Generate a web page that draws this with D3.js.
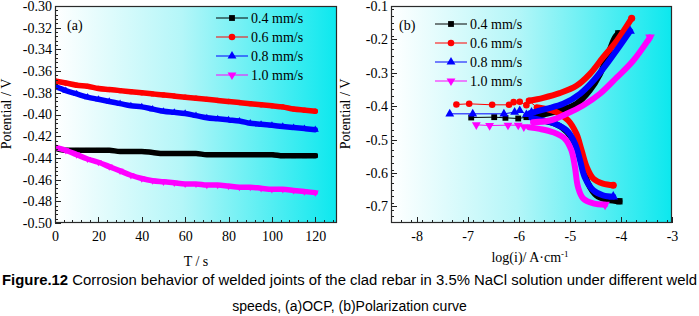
<!DOCTYPE html>
<html><head><meta charset="utf-8">
<script src="https://cdn.jsdelivr.net/npm/d3@7"></script>
<style>
html,body{margin:0;padding:0;background:#fff;}
svg{display:block;}
.serif{font-family:"Liberation Serif","Times New Roman","DejaVu Serif",serif;}
.sans{font-family:"Liberation Sans",Arial,"DejaVu Sans",sans-serif;}
</style></head>
<body>
<svg id="chart" width="699" height="316"></svg>
<script>
// ---------------- DATA ----------------
const seriesNames = ["0.4 mm/s", "0.6 mm/s", "0.8 mm/s", "1.0 mm/s"];
const seriesColors = ["#000000", "#ff0000", "#0000ff", "#ff00ff"];
const seriesSymbols = ["square", "circle", "triangleUp", "triangleDown"];

// (a) OCP
const ocpTime = [0,5,10,15,20,25,30,35,40,45,50,55,60,65,70,75,80,85,90,95,100,105,110,115,120];
const ocp04 = [-0.431,-0.433,-0.433,-0.433,-0.433,-0.433,-0.434,-0.434,-0.434,-0.435,-0.436,-0.436,-0.436,-0.436,-0.437,-0.437,-0.437,-0.437,-0.437,-0.437,-0.437,-0.438,-0.438,-0.438,-0.438];
const ocp06 = [-0.369,-0.371,-0.373,-0.374,-0.376,-0.377,-0.378,-0.379,-0.380,-0.381,-0.382,-0.383,-0.384,-0.385,-0.386,-0.387,-0.388,-0.389,-0.390,-0.391,-0.392,-0.393,-0.395,-0.396,-0.397];
const ocp08 = [-0.374,-0.378,-0.381,-0.384,-0.386,-0.388,-0.390,-0.392,-0.393,-0.395,-0.397,-0.398,-0.399,-0.401,-0.403,-0.404,-0.405,-0.406,-0.408,-0.409,-0.410,-0.411,-0.412,-0.413,-0.414];
const ocp10 = [-0.430,-0.433,-0.437,-0.441,-0.444,-0.448,-0.452,-0.456,-0.459,-0.461,-0.462,-0.463,-0.464,-0.464,-0.465,-0.465,-0.466,-0.467,-0.467,-0.468,-0.469,-0.469,-0.470,-0.471,-0.472];
const ocpTicksX = [0,20,40,60,80,100,120];
const ocpTicksY = [-0.50,-0.48,-0.46,-0.44,-0.42,-0.40,-0.38,-0.36,-0.34,-0.32,-0.30];

// (b) Polarization: [log(i), E]
const cath04 = [[-4.03,-0.685],[-4.25,-0.681],[-4.48,-0.667],[-4.64,-0.632],[-4.74,-0.582],[-4.84,-0.532],[-4.97,-0.493],[-5.16,-0.463],[-5.39,-0.448],[-5.65,-0.441]];
const corr04 = [[-6.93,-0.434],[-6.48,-0.433],[-6.26,-0.435],[-6.01,-0.437],[-5.85,-0.433]];
const anod04 = [[-5.78,-0.431],[-5.52,-0.425],[-5.2,-0.413],[-4.87,-0.393],[-4.61,-0.353],[-4.41,-0.304],[-4.25,-0.244],[-4.12,-0.195],[-4.05,-0.182]];

const cath06 = [[-4.15,-0.637],[-4.35,-0.632],[-4.54,-0.617],[-4.67,-0.582],[-4.77,-0.532],[-4.87,-0.483],[-5.03,-0.443],[-5.26,-0.418],[-5.46,-0.408],[-5.65,-0.403]];
const corr06 = [[-7.22,-0.395],[-6.97,-0.393],[-6.52,-0.396],[-6.19,-0.396],[-6.1,-0.388],[-5.98,-0.387],[-5.85,-0.397],[-5.8,-0.384]];
const anod06 = [[-5.8,-0.384],[-5.52,-0.375],[-5.2,-0.361],[-4.87,-0.339],[-4.61,-0.304],[-4.35,-0.254],[-4.08,-0.204],[-3.79,-0.137]];

const cath08 = [[-4.15,-0.671],[-4.35,-0.667],[-4.54,-0.652],[-4.71,-0.612],[-4.80,-0.562],[-4.90,-0.512],[-5.06,-0.473],[-5.29,-0.453],[-5.52,-0.443],[-5.75,-0.435]];
const corr08 = [[-7.35,-0.423],[-6.9,-0.423],[-6.29,-0.423],[-6.08,-0.418],[-5.98,-0.413],[-5.85,-0.425],[-5.75,-0.418]];
const anod08 = [[-5.78,-0.421],[-5.46,-0.408],[-5.13,-0.393],[-4.80,-0.363],[-4.54,-0.324],[-4.28,-0.274],[-4.02,-0.219],[-3.82,-0.175]];

const cath10 = [[-4.31,-0.695],[-4.54,-0.691],[-4.74,-0.676],[-4.84,-0.642],[-4.90,-0.582],[-4.97,-0.532],[-5.10,-0.497],[-5.33,-0.478],[-5.59,-0.468],[-5.8,-0.463]];
const corr10 = [[-6.83,-0.456],[-6.57,-0.458],[-6.21,-0.457],[-6.01,-0.457],[-5.9,-0.462]];
const anod10 = [[-5.72,-0.448],[-5.39,-0.443],[-5.06,-0.423],[-4.74,-0.398],[-4.41,-0.363],[-4.08,-0.314],[-3.76,-0.264],[-3.43,-0.194]];

const polTicksX = [-8,-7,-6,-5,-4,-3];
const polTicksY = [-0.7,-0.6,-0.5,-0.4,-0.3,-0.2,-0.1];

const captionBold = "Figure.12";
const captionLine1 = " Corrosion behavior of welded joints of the clad rebar in 3.5% NaCl solution under different weld";
const captionLine2 = "speeds, (a)OCP, (b)Polarization curve";

// ---------------- DRAW ----------------
const svg = d3.select("#chart");

const defs = svg.append("defs");
const grad = defs.append("linearGradient").attr("id","bg").attr("x1","0").attr("x2","1").attr("y1","0").attr("y2","0");
grad.append("stop").attr("offset","0%").attr("stop-color","#ffffff");
grad.append("stop").attr("offset","45%").attr("stop-color","#b4f6f8");
grad.append("stop").attr("offset","100%").attr("stop-color","#0ce8ee");

function symbolFor(name, size){
  const map = {square:d3.symbolSquare, circle:d3.symbolCircle, triangleUp:d3.symbolTriangle, triangleDown:d3.symbolTriangle};
  return d3.symbol().type(map[name]).size(size)();
}
function drawMarker(g, name, x, y, color, size){
  g.append("path").attr("d", symbolFor(name,size))
    .attr("transform", `translate(${x},${y})` + (name==="triangleDown" ? " rotate(180)" : ""))
    .attr("fill", color);
}
function serifText(g){ return g.append("text").attr("class","serif").attr("font-size",14).attr("fill","#000"); }

function panel(opts){
  const {x0,x1,y0,y1,xDom,yDom,xTicks,yTicks,xMinor,yMinor,xFmt,yFmt,tag} = opts;
  const x = d3.scaleLinear().domain(xDom).range([x0,x1]);
  const y = d3.scaleLinear().domain(yDom).range([y1,y0]);
  const g = svg.append("g");
  g.append("rect").attr("x",x0).attr("y",y0).attr("width",x1-x0).attr("height",y1-y0).attr("fill","url(#bg)");
  const clip = "clip"+tag;
  defs.append("clipPath").attr("id",clip).append("rect").attr("x",x0).attr("y",y0).attr("width",x1-x0).attr("height",y1-y0);
  const plot = g.append("g").attr("clip-path",`url(#${clip})`);

  const minorX = d3.range(xDom[0], xDom[1]+1e-9, xMinor).filter(v=>v>xDom[0]+1e-9 && v<xDom[1]-1e-9);
  const minorY = d3.range(yDom[0], yDom[1]+1e-9, yMinor).filter(v=>v>yDom[0]+1e-9 && v<yDom[1]-1e-9);
  const tk = g.append("g").attr("stroke","#222").attr("stroke-width",1);
  minorX.forEach(v=>{ const px=Math.round(x(v))+0.5; tk.append("line").attr("x1",px).attr("x2",px).attr("y1",y1).attr("y2",y1-3); });
  minorY.forEach(v=>{ const py=Math.round(y(v))+0.5; tk.append("line").attr("x1",x0).attr("x2",x0+3).attr("y1",py).attr("y2",py); });
  xTicks.forEach(v=>{ const px=Math.round(x(v))+0.5; tk.append("line").attr("x1",px).attr("x2",px).attr("y1",y1).attr("y2",y1-6); });
  yTicks.forEach(v=>{ const py=Math.round(y(v))+0.5; tk.append("line").attr("x1",x0).attr("x2",x0+6).attr("y1",py).attr("y2",py); });

  const ax = d3.axisBottom(x).tickValues(xTicks).tickFormat(xFmt).tickSize(0).tickPadding(8);
  const gx = g.append("g").attr("transform",`translate(0,${y1})`).call(ax);
  gx.attr("font-family",null).attr("font-size",null);
  gx.select(".domain").remove();
  gx.selectAll("text").attr("class","serif").attr("font-size",14).attr("fill","#000");
  const ay = d3.axisLeft(y).tickValues(yTicks).tickFormat(yFmt).tickSize(0).tickPadding(3);
  const gy = g.append("g").attr("transform",`translate(${x0},0)`).call(ay);
  gy.attr("font-family",null).attr("font-size",null);
  gy.select(".domain").remove();
  gy.selectAll("text").attr("class","serif").attr("font-size",14).attr("fill","#000");

  return {x,y,g,plot,frame:()=>g.append("rect").attr("x",x0+0.5).attr("y",y0+0.5).attr("width",x1-x0-1).attr("height",y1-y0-1).attr("fill","none").attr("stroke","#2a2a2a").attr("stroke-width",1.2)};
}

// ---- Panel (a)
const A = panel({x0:55,x1:337,y0:6,y1:223,xDom:[0,130],yDom:[-0.50,-0.30],xTicks:ocpTicksX,yTicks:ocpTicksY,
  xMinor:4,yMinor:0.004,xFmt:d=>String(d),yFmt:d=>d.toFixed(2),tag:"a"});
const ocpSeries = [ocp04, ocp06, ocp08, ocp10];
const lineA = d3.line().x(d=>A.x(d[0])).y(d=>A.y(d[1])).curve(d3.curveMonotoneX);
ocpSeries.forEach((vals,i)=>{
  const pts = ocpTime.map((t,k)=>[t,vals[k]]);
  A.plot.append("path").attr("d",lineA(pts)).attr("fill","none").attr("stroke",seriesColors[i])
    .attr("stroke-width",5.5).attr("stroke-linecap","round").attr("stroke-linejoin","round");
  pts.forEach(p=>drawMarker(A.plot, seriesSymbols[i], A.x(p[0]), A.y(p[1]), seriesColors[i], 22));
});
A.frame();
serifText(A.g).attr("x",67).attr("y",30).text("(a)");
serifText(A.g).attr("x",196).attr("y",266).attr("text-anchor","middle").text("T / s");
serifText(A.g).attr("transform","translate(11,114) rotate(-90)").attr("text-anchor","middle").text("Potential / V");
const legA = [18,37,56,75];
seriesNames.forEach((n,i)=>{
  A.g.append("line").attr("x1",216).attr("x2",248).attr("y1",legA[i]).attr("y2",legA[i]).attr("stroke",seriesColors[i]).attr("stroke-width",1);
  drawMarker(A.g, seriesSymbols[i], 232, legA[i], seriesColors[i], 34);
  serifText(A.g).attr("x",251).attr("y",legA[i]+5).text(n);
});

// ---- Panel (b)
const B = panel({x0:391,x1:672,y0:6,y1:223,xDom:[-8.5,-3],yDom:[-0.75,-0.1],xTicks:polTicksX,yTicks:polTicksY,
  xMinor:0.2,yMinor:0.02,xFmt:d=>String(d),yFmt:d=>d.toFixed(1),tag:"b"});
const polSeries = [[cath04,corr04,anod04],[cath06,corr06,anod06],[cath08,corr08,anod08],[cath10,corr10,anod10]];
const lineB = d3.line().x(d=>B.x(d[0])).y(d=>B.y(d[1])).curve(d3.curveCatmullRom);
const lineBthin = d3.line().x(d=>B.x(d[0])).y(d=>B.y(d[1]));
polSeries.forEach((s,i)=>{
  const [cath,corr,anod] = s;
  const c = seriesColors[i];
  B.plot.append("path").attr("d",lineBthin(corr.concat([cath[cath.length-1]]))).attr("fill","none").attr("stroke",c).attr("stroke-width",1);
  [cath,anod].forEach(br=>{
    B.plot.append("path").attr("d",lineB(br)).attr("fill","none").attr("stroke",c)
      .attr("stroke-width",6).attr("stroke-linecap","round").attr("stroke-linejoin","round");
  });
  corr.forEach(p=>drawMarker(B.plot, seriesSymbols[i], B.x(p[0]), B.y(p[1]), c, 34));
  [cath[0], anod[anod.length-1]].forEach(p=>drawMarker(B.plot, seriesSymbols[i], B.x(p[0]), B.y(p[1]), c, 40));
});
B.frame();
serifText(B.g).attr("x",399).attr("y",30).text("(b)");
const xt = serifText(B.g).attr("x",530).attr("y",262).attr("text-anchor","middle");
xt.append("tspan").text("log(i)/ A·cm");
xt.append("tspan").attr("dy",-5).attr("font-size",9).text("-1");
serifText(B.g).attr("transform","translate(350,114) rotate(-90)").attr("text-anchor","middle").text("Potential / V");
const legB = [24,43,62,81];
seriesNames.forEach((n,i)=>{
  B.g.append("line").attr("x1",435).attr("x2",467).attr("y1",legB[i]).attr("y2",legB[i]).attr("stroke",seriesColors[i]).attr("stroke-width",1);
  drawMarker(B.g, seriesSymbols[i], 451, legB[i], seriesColors[i], 34);
  serifText(B.g).attr("x",470).attr("y",legB[i]+5).text(n);
});

// ---- Caption
const cap1 = svg.append("text").attr("class","sans").attr("x",349.5).attr("y",285).attr("text-anchor","middle")
  .attr("font-size",14).attr("fill","#000")
  .attr("textLength",695).attr("lengthAdjust","spacingAndGlyphs");
cap1.append("tspan").attr("font-weight","bold").text(captionBold);
cap1.append("tspan").text(captionLine1);
svg.append("text").attr("class","sans").attr("x",349.5).attr("y",311).attr("text-anchor","middle")
  .attr("font-size",14).attr("fill","#000").text(captionLine2);
</script>
</body></html>
